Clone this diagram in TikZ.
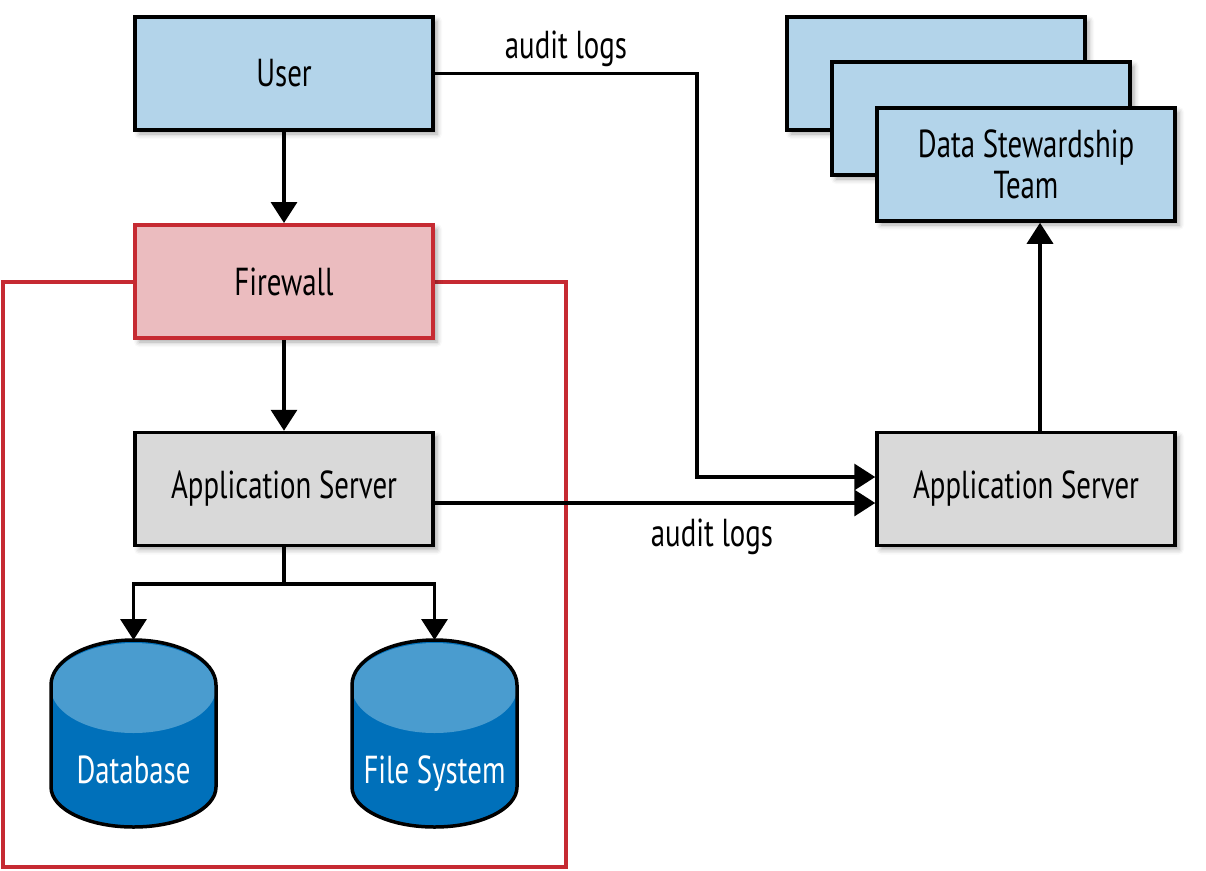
\documentclass[tikz,border=0pt]{standalone}
\usepackage{fontspec}
\setmainfont{PT Sans}[FakeStretch=0.74]
\usetikzlibrary{arrows.meta,shadows.blur}
\definecolor{lblue}{HTML}{B3D4EA}
\definecolor{lpink}{HTML}{EBBCBF}
\definecolor{fwred}{HTML}{C62A32}
\definecolor{lgray}{HTML}{D9D9D9}
\definecolor{dblue}{HTML}{0070BA}
\definecolor{mblue}{HTML}{4A9CCF}
\tikzset{
  box/.style={draw=black, line width=3.5pt, minimum width=298pt, minimum height=113pt,
    inner sep=0pt, align=center, font=\fontsize{39}{41}\selectfont,
    blur shadow={shadow xshift=4pt, shadow yshift=-4pt, shadow blur radius=5pt, shadow opacity=35}},
  arr/.style={line width=3.5pt, -{Triangle[length=21pt,width=26pt]}},
  lbl/.style={font=\fontsize{39}{41}\selectfont, inner sep=0pt},
  cyl/.pic={
    \path[fill=dblue] (-82.5,-45) -- (-82.5,-147) arc[start angle=180, end angle=360, x radius=82.5, y radius=40]
      -- (82.5,-45) arc[start angle=0, end angle=180, x radius=82.5, y radius=45] -- cycle;
    \begin{scope}
      \clip (-82.5,-45) -- (-82.5,-147) arc[start angle=180, end angle=360, x radius=82.5, y radius=40]
        -- (82.5,-45) arc[start angle=0, end angle=180, x radius=82.5, y radius=45] -- cycle;
      \fill[mblue] (0,-48) ellipse[x radius=82.5, y radius=45];
    \end{scope}
    \draw[line width=3.5pt] (-82.5,-45) -- (-82.5,-147) arc[start angle=180, end angle=360, x radius=82.5, y radius=40]
      -- (82.5,-45) arc[start angle=0, end angle=180, x radius=82.5, y radius=45] -- cycle;
    \coordinate (-top) at (0,0);
    \node[lbl, text=white, anchor=base] (-label) at (0,-143) {#1};
  }
}
\begin{document}
\begin{tikzpicture}[x=1pt,y=1pt]
\useasboundingbox (0,0) rectangle (1206,-870);
% red frame
\draw[fwred, line width=3.5pt] (3,-282) rectangle (566,-867);
% boxes
\node[box, fill=lblue] (user) at (284,-73.5) {User};
\node[box, fill=lpink, draw=fwred, line width=4pt] (fw) at (284,-281.5) {Firewall};
\node[box, fill=lgray] (appl) at (284,-489) {Application Server};
\node[box, fill=lblue] (back) at (936,-73.5) {};
\node[box, fill=lblue] (mid) at (981,-118.5) {};
\node[box, fill=lblue] (team) at (1026,-164.5) {Data Stewardship\\Team};
\node[box, fill=lgray] (appr) at (1026,-489) {Application Server};
% cylinders
\pic (db) at (133.5,-640) {cyl=Database};
\pic (fs) at (434.5,-640) {cyl=File System};
% arrows
\draw[arr] (user) -- (fw);
\draw[arr] (fw) -- (appl);
\coordinate (split) at (284,-584);
\draw[line width=3.5pt] (appl.south) -- (split);
\draw[arr] (split) -| (db-top);
\draw[arr] (split) -| (fs-top);
\draw[arr] (user.east) -- (697,-73.5) -- (697,-477) -- (appr.west |- 0,-477);
\draw[arr] (appl.east |- 0,-503) -- (appr.west |- 0,-503);
\draw[arr] (appr.north -| 1040,0) -- (team.south -| 1040,0);
% labels
\node[lbl] (al1) at (566,-49) {audit logs};
\node[lbl] (al2) at (712,-537) {audit logs};
\end{tikzpicture}
\end{document}
